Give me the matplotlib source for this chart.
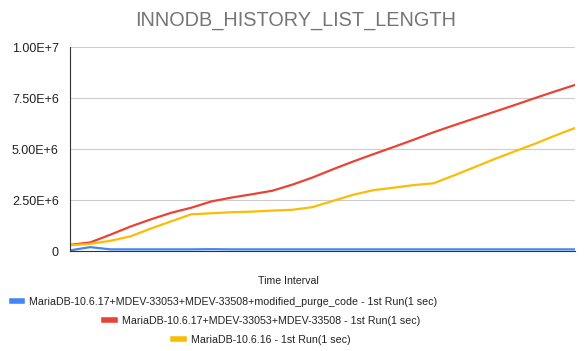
import matplotlib
matplotlib.use("Agg")
import matplotlib.pyplot as plt
from matplotlib.lines import Line2D
import numpy as np

plt.rcParams['font.family'] = ['Liberation Sans', 'DejaVu Sans']

series_names = [
    "MariaDB-10.6.17+MDEV-33053+MDEV-33508+modified_purge_code - 1st Run(1 sec)",
    "MariaDB-10.6.17+MDEV-33053+MDEV-33508 - 1st Run(1 sec)",
    "MariaDB-10.6.16 - 1st Run(1 sec)",
]
colors = ["#4285F4", "#EA4335", "#FBBC04"]

blue_vals = [0.03e6, 0.19e6, 0.08e6, 0.08e6, 0.08e6, 0.08e6, 0.08e6, 0.09e6, 0.08e6, 0.08e6,
             0.08e6, 0.08e6, 0.08e6, 0.08e6, 0.08e6, 0.08e6, 0.08e6, 0.08e6, 0.08e6, 0.08e6,
             0.08e6, 0.08e6, 0.08e6, 0.08e6, 0.08e6, 0.08e6]
red_vals = [0.30e6, 0.42e6, 0.80e6, 1.20e6, 1.55e6, 1.87e6, 2.12e6, 2.43e6, 2.62e6, 2.78e6,
            2.95e6, 3.25e6, 3.60e6, 4.00e6, 4.38e6, 4.74e6, 5.09e6, 5.45e6, 5.82e6, 6.16e6,
            6.49e6, 6.82e6, 7.15e6, 7.49e6, 7.82e6, 8.14e6]
yellow_vals = [0.28e6, 0.35e6, 0.50e6, 0.72e6, 1.10e6, 1.45e6, 1.80e6, 1.85e6, 1.90e6, 1.93e6,
               1.98e6, 2.02e6, 2.15e6, 2.45e6, 2.75e6, 2.98e6, 3.10e6, 3.23e6, 3.32e6, 3.70e6,
               4.10e6, 4.50e6, 4.88e6, 5.25e6, 5.65e6, 6.03e6]
yticks = [0, 2.5e6, 5e6, 7.5e6, 1e7]
ytick_labels = ["0", "2.50E+6", "5.00E+6", "7.50E+6", "1.00E+7"]

fig = plt.figure(figsize=(5.86, 3.51), dpi=100)
ax = fig.add_axes([70/586, 1-251/351, 505/586, 204/351])

x = np.arange(len(red_vals))
for vals, c in zip([blue_vals, red_vals, yellow_vals], colors):
    ax.plot(x, vals, color=c, lw=1.6, solid_joinstyle='round')

ax.set_xlim(0, len(red_vals)-1)
ax.set_ylim(0, 1e7)
ax.set_yticks(yticks)
ax.set_yticklabels(ytick_labels, fontsize=9, color="#222222")
ax.set_xticks([])
ax.tick_params(axis='y', length=0, pad=8)
ax.grid(axis='y', color="#cccccc", lw=0.8)
ax.set_axisbelow(True)
for s in ['top', 'right']:
    ax.spines[s].set_visible(False)
ax.spines['left'].set_color('#333333')
ax.spines['bottom'].set_color('#333333')
ax.spines['left'].set_linewidth(0.8)
ax.spines['bottom'].set_linewidth(0.8)

fig.text(296/586, 1-20/351, "INNODB_HISTORY_LIST_LENGTH", ha='center', va='center',
         fontsize=14.3, color="#757575")
fig.text(288/586, 1-281/351, "Time Interval", ha='center', va='center', fontsize=7.6, color="#222222")

centers = [(224.5, 302), (262, 321), (262, 340)]
for name, c, (cx, cy) in zip(series_names, colors, centers):
    h = Line2D([], [], color=c, lw=4)
    fig.legend([h], [name], loc='center', bbox_to_anchor=(cx/586, 1-cy/351), frameon=False,
               fontsize=7.7, handlelength=1.0, handletextpad=0.65, borderpad=0, borderaxespad=0,
               labelcolor="#222222")

fig.savefig("out.png", dpi=100)
